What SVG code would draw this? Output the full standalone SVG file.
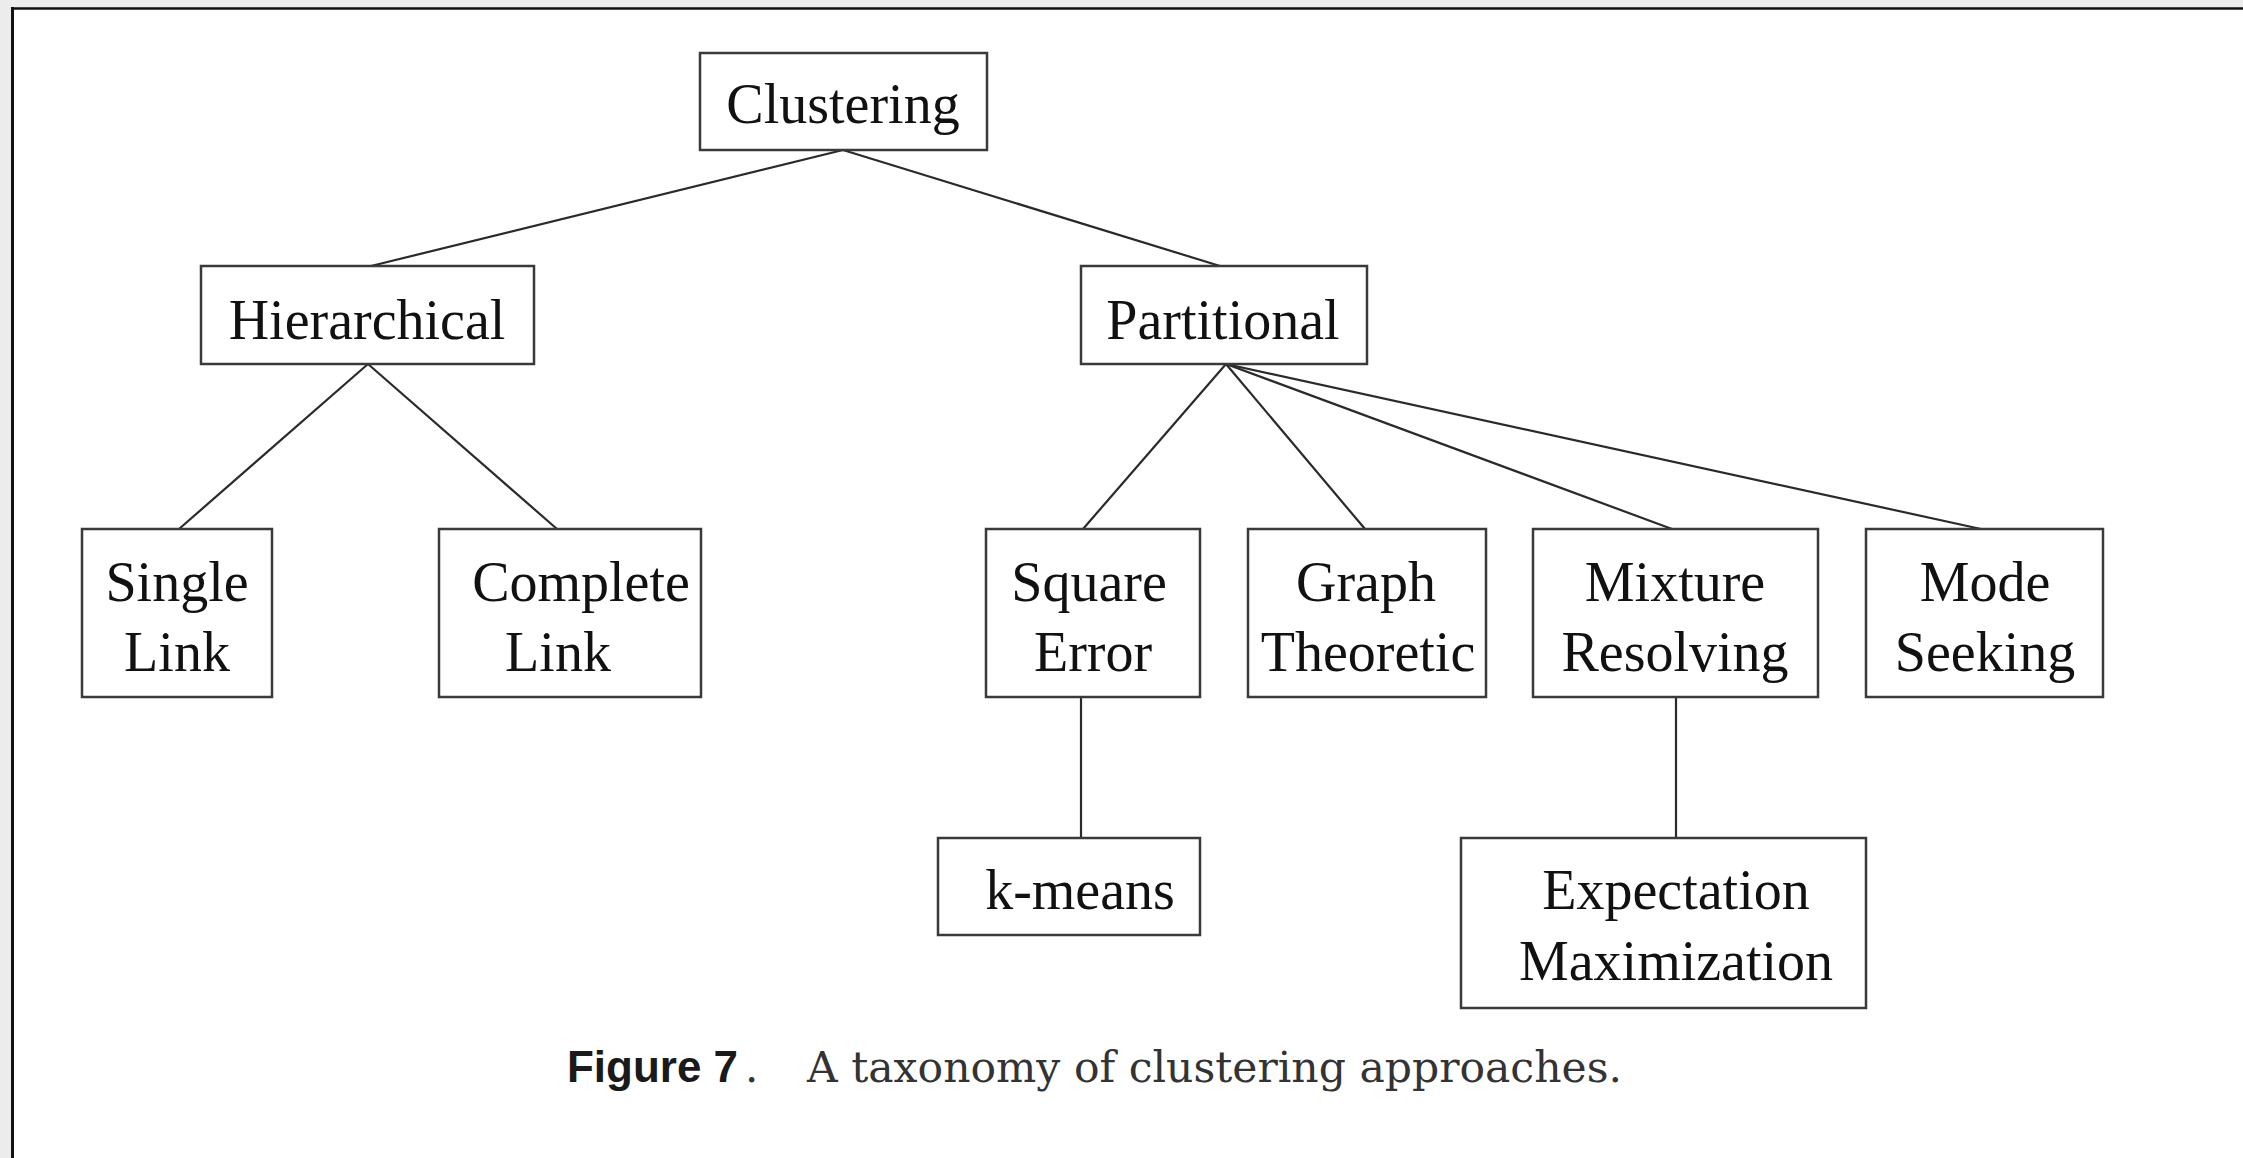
<svg xmlns="http://www.w3.org/2000/svg" width="2243" height="1158" viewBox="0 0 2243 1158">
<defs>
<style>
.box{fill:#ffffff;stroke:#3a3a3a;stroke-width:2.5}
.lbl{font-family:"Liberation Serif","Times New Roman",serif;font-size:56px;fill:#111;text-anchor:middle}
.edge{stroke:#2a2a2a;stroke-width:2.2;fill:none}
</style>
</defs>
<rect x="0" y="0" width="2243" height="1158" fill="#ececec"/>
<rect x="12" y="8" width="2231" height="1150" fill="#ffffff"/>
<line x1="12.5" y1="7" x2="12.5" y2="1158" stroke="#111" stroke-width="3"/>
<line x1="11" y1="8.5" x2="2243" y2="8.5" stroke="#111" stroke-width="2.5"/>

<g id="connectors">
<line class="edge" x1="843" y1="150" x2="371" y2="266"/>
<line class="edge" x1="843" y1="150" x2="1220" y2="266"/>
<line class="edge" x1="368" y1="364" x2="179" y2="529"/>
<line class="edge" x1="368" y1="364" x2="557" y2="529"/>
<line class="edge" x1="1226" y1="364" x2="1083" y2="529"/>
<line class="edge" x1="1226" y1="364" x2="1365" y2="529"/>
<line class="edge" x1="1226" y1="364" x2="1672" y2="529"/>
<line class="edge" x1="1226" y1="364" x2="1981" y2="529"/>
<line class="edge" x1="1081" y1="697" x2="1081" y2="838"/>
<line class="edge" x1="1676" y1="697" x2="1676" y2="838"/>
</g>

<g id="clustering">
<rect class="box" x="700" y="53" width="287" height="97"/>
<text class="lbl" x="843" y="123">Clustering</text>
</g>
<g id="hierarchical">
<rect class="box" x="201" y="266" width="333" height="98"/>
<text class="lbl" x="367" y="339">Hierarchical</text>
</g>
<g id="partitional">
<rect class="box" x="1081" y="266" width="286" height="98"/>
<text class="lbl" x="1223" y="339">Partitional</text>
</g>
<g id="single-link">
<rect class="box" x="82" y="529" width="190" height="168"/>
<text class="lbl" x="177" y="601">Single</text>
<text class="lbl" x="177" y="671">Link</text>
</g>
<g id="complete-link">
<rect class="box" x="439" y="529" width="262" height="168"/>
<text class="lbl" x="581" y="601">Complete</text>
<text class="lbl" x="558" y="671">Link</text>
</g>
<g id="square-error">
<rect class="box" x="986" y="529" width="214" height="168"/>
<text class="lbl" x="1089" y="601">Square</text>
<text class="lbl" x="1093" y="671">Error</text>
</g>
<g id="graph-theoretic">
<rect class="box" x="1248" y="529" width="238" height="168"/>
<text class="lbl" x="1366" y="601">Graph</text>
<text class="lbl" x="1368" y="671">Theoretic</text>
</g>
<g id="mixture-resolving">
<rect class="box" x="1533" y="529" width="285" height="168"/>
<text class="lbl" x="1675" y="601">Mixture</text>
<text class="lbl" x="1675" y="671">Resolving</text>
</g>
<g id="mode-seeking">
<rect class="box" x="1866" y="529" width="237" height="168"/>
<text class="lbl" x="1985" y="601">Mode</text>
<text class="lbl" x="1985" y="671">Seeking</text>
</g>
<g id="k-means">
<rect class="box" x="938" y="838" width="262" height="97"/>
<text class="lbl" x="1080" y="909">k-means</text>
</g>
<g id="expectation-maximization">
<rect class="box" x="1461" y="838" width="405" height="170"/>
<text class="lbl" x="1676" y="909">Expectation</text>
<text class="lbl" x="1676" y="980">Maximization</text>
</g>

<g id="caption">
<text x="567" y="1082" font-family="'Liberation Sans',Arial,sans-serif" font-weight="bold" font-size="44" fill="#1a1a1a" textLength="171" lengthAdjust="spacingAndGlyphs">Figure 7</text>
<text x="745" y="1082" font-family="'DejaVu Serif',serif" font-size="42" fill="#333">.</text>
<text x="807" y="1082" font-family="'DejaVu Serif',serif" font-size="42" fill="#333" textLength="815" lengthAdjust="spacingAndGlyphs">A taxonomy of clustering approaches.</text>
</g>
</svg>
